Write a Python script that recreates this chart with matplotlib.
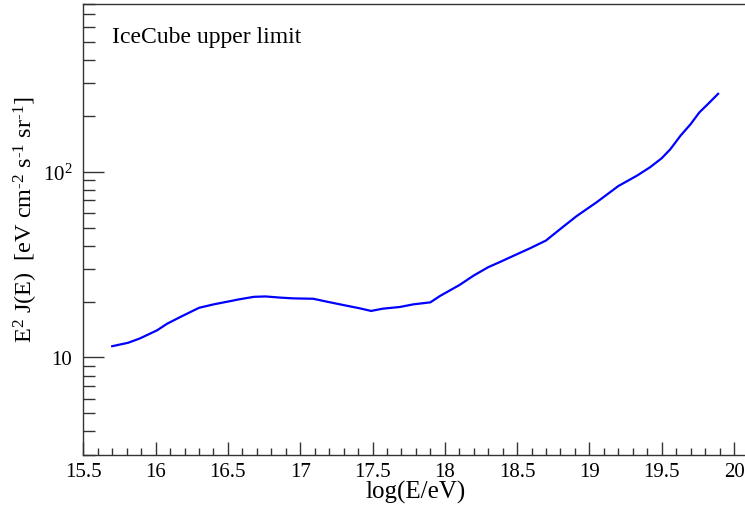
import matplotlib
matplotlib.use("Agg")
import matplotlib.pyplot as plt
from matplotlib.ticker import MultipleLocator, FixedLocator, NullFormatter, FixedFormatter

log_energy = [15.70, 15.81, 15.89, 16.01, 16.08, 16.17, 16.30, 16.40, 16.53, 16.57,
              16.68, 16.76, 16.86, 16.95, 17.09, 17.18, 17.32, 17.41, 17.49, 17.57,
              17.69, 17.78, 17.90, 17.97, 18.10, 18.20, 18.30, 18.38, 18.47, 18.59,
              18.70, 18.80, 18.91, 19.05, 19.20, 19.33, 19.42, 19.50, 19.56, 19.63,
              19.70, 19.76, 19.82, 19.89]
e2j = [11.5, 12.0, 12.65, 14.0, 15.2, 16.5, 18.5, 19.3, 20.2, 20.5,
       21.2, 21.3, 21.0, 20.8, 20.7, 20.0, 19.0, 18.4, 17.8, 18.3,
       18.7, 19.3, 19.8, 21.5, 24.5, 27.6, 30.6, 32.6, 35.1, 38.7,
       42.6, 49.2, 57.5, 68.4, 83.6, 95.2, 105.6, 118, 132, 156,
       180, 208, 231, 262]

x_ticks = [15.5, 16, 16.5, 17, 17.5, 18, 18.5, 19, 19.5, 20]
x_tick_labels = ["15.5", "16", "16.5", "17", "17.5", "18", "18.5", "19", "19.5", "20"]
y_ticks = [10, 100]
y_tick_labels = ["10", r"$10^{2}$"]

plt.rcParams['font.family'] = ['Liberation Serif', 'DejaVu Serif']
plt.rcParams['mathtext.fontset'] = 'custom'
plt.rcParams['mathtext.rm'] = 'Liberation Serif'
plt.rcParams['mathtext.it'] = 'Liberation Serif:italic'
plt.rcParams['mathtext.default'] = 'rm'

fig = plt.figure(figsize=(7.45, 5.06), dpi=100)
ax = fig.add_axes([83.3 / 745, 50.3 / 506, 661.7 / 745, 451.0 / 506])

ax.plot(log_energy, e2j, color='#0000ff', lw=1.6)

ax.set_yscale('log')
ax.set_xlim(15.5, 20.076)
ax.set_ylim(3.0, 800)

ax.xaxis.set_major_locator(FixedLocator(x_ticks))
ax.xaxis.set_major_formatter(FixedFormatter(x_tick_labels))
ax.xaxis.set_minor_locator(MultipleLocator(0.1))
ax.yaxis.set_major_locator(FixedLocator(y_ticks))
ax.yaxis.set_major_formatter(FixedFormatter(y_tick_labels))
minor_y = [v * d for d in (1, 10, 100) for v in range(2, 10) if 3 <= v * d <= 800]
ax.yaxis.set_minor_locator(FixedLocator(minor_y))
ax.yaxis.set_minor_formatter(NullFormatter())

spine_color = '#333333'
for s in ['left', 'bottom', 'top']:
    ax.spines[s].set_color(spine_color)
    ax.spines[s].set_linewidth(1.0)
ax.spines['right'].set_visible(False)

ax.tick_params(axis='x', which='major', direction='in', length=9.5, width=1.0,
               color=spine_color, labelsize=15, pad=5)
ax.tick_params(axis='x', which='minor', direction='in', length=5.3, width=1.0, color=spine_color)
ax.tick_params(axis='y', which='major', direction='in', length=15, width=1.0,
               color=spine_color, labelsize=15, pad=8)
ax.tick_params(axis='y', which='minor', direction='in', length=8.5, width=1.0, color=spine_color)
ax.tick_params(top=False, right=False, which='both')

fig.text(416 / 745, 1 - 492 / 506, 'log(E/eV)', fontsize=18, ha='center', va='center')
fig.text(26 / 745, 1 - 220 / 506,
         'E$^{2}$ J(E)  [eV cm$^{\u20102}$ s$^{\u20101}$ sr$^{\u20101}$]',
         fontsize=17.5, rotation=90, ha='center', va='center')

ax.text(111.7 / 745, 1 - 37.5 / 506, 'IceCube upper limit', transform=fig.transFigure,
        fontsize=17, ha='left', va='center')

fig.savefig('out.png', dpi=100)
